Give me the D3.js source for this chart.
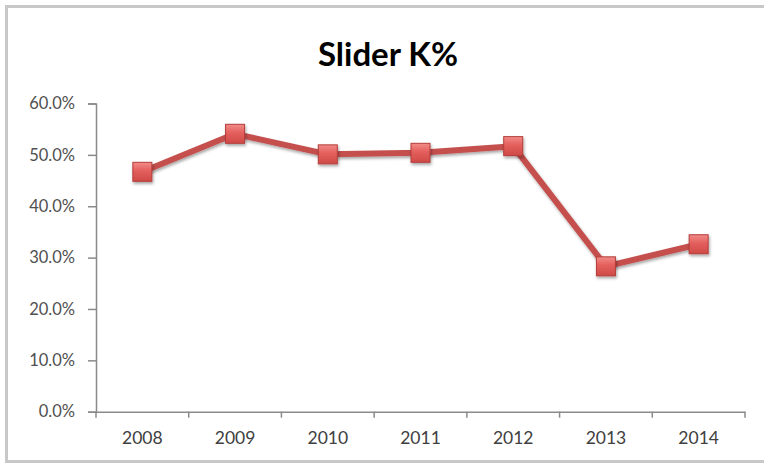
<!DOCTYPE html>
<html><head><meta charset="utf-8">
<script src="https://cdn.jsdelivr.net/npm/d3@7"></script>
<style>
html,body{margin:0;padding:0;background:#fff;}
svg{display:block;}
</style></head>
<body>
<script>
const title = "Slider K%";
const years = ["2008","2009","2010","2011","2012","2013","2014"];
const kPct = [46.7, 54.1, 50.1, 50.4, 51.7, 28.3, 32.6];
const yTicks = [0, 10, 20, 30, 40, 50, 60];

const W = 764, H = 465;
const m = {left: 96, right: 19, top: 103.5, bottom: 53.3};
const svg = d3.select("body").append("svg").attr("width", W).attr("height", H);

const defs = svg.append("defs");
const grad = defs.append("linearGradient").attr("id","mk").attr("x1",0).attr("y1",0).attr("x2",0).attr("y2",1);
grad.append("stop").attr("offset","0%").attr("stop-color","#f28b88");
grad.append("stop").attr("offset","45%").attr("stop-color","#e35f5c");
grad.append("stop").attr("offset","100%").attr("stop-color","#cf4a47");
const f = defs.append("filter").attr("id","sh").attr("x","-50%").attr("y","-50%").attr("width","200%").attr("height","200%");
f.append("feDropShadow").attr("dx",1).attr("dy",2).attr("stdDeviation",1.6).attr("flood-color","#000").attr("flood-opacity",0.35);

// frame
svg.append("path").attr("d", `M${W+5},6.5 L6.5,6.5 L6.5,461.5 L${W+5},461.5`)
  .attr("fill","none").attr("stroke","#c8c8c8").attr("stroke-width",3);

svg.append("text").attr("x",388).attr("y",66).attr("text-anchor","middle")
  .attr("font-family","Lato, 'Open Sans', sans-serif").attr("font-weight",700)
  .attr("font-size",33).attr("fill","#000").text(title);

const x = d3.scaleBand().domain(years).range([m.left, W - m.right]);
const y = d3.scaleLinear().domain([0, 60]).range([H - m.bottom, m.top]);

// y axis
const yAxis = d3.axisLeft(y).tickValues(yTicks).tickSize(8).tickPadding(13)
  .tickFormat(d => d.toFixed(1) + "%");
const ga = svg.append("g").attr("transform", `translate(${m.left},0)`).call(yAxis);
ga.select(".domain").attr("stroke","#8a8a8a").attr("stroke-width",1.5);
ga.selectAll(".tick line").attr("stroke","#8a8a8a").attr("stroke-width",1.5);
ga.selectAll("text").attr("font-family","Lato, sans-serif").attr("font-size",16.5).attr("fill","#505050");

// x axis
const xAxis = d3.axisBottom(x).tickSize(0).tickPadding(20);
const gx = svg.append("g").attr("transform", `translate(0,${y(0)})`).call(xAxis);
gx.select(".domain").attr("stroke","#8a8a8a").attr("stroke-width",1.5);
gx.selectAll("text").attr("font-family","Lato, sans-serif").attr("font-size",17.5).attr("fill","#404040");
const bounds = years.map(d => x(d)).concat([x(years[years.length-1]) + x.bandwidth()]);
gx.selectAll(".bt").data(bounds).enter().append("line").attr("class","bt")
  .attr("x1", d => d).attr("x2", d => d).attr("y1", 0).attr("y2", 6)
  .attr("stroke","#8a8a8a").attr("stroke-width",1.5);

const cx = d => x(d) + x.bandwidth()/2;
const pts = years.map((d,i) => [cx(d), y(kPct[i])]);

svg.append("path").attr("d", d3.line()(pts)).attr("fill","none")
  .attr("stroke","#c4504d").attr("stroke-width",6).attr("stroke-linejoin","round")
  .attr("filter","url(#sh)");

const s = 19;
svg.selectAll(".mk").data(pts).enter().append("rect").attr("class","mk")
  .attr("x", d => d[0]-s/2).attr("y", d => d[1]-s/2).attr("width", s).attr("height", s)
  .attr("fill","url(#mk)").attr("stroke","#b43d3b").attr("stroke-width",1)
  .attr("filter","url(#sh)");
</script>
</body></html>
